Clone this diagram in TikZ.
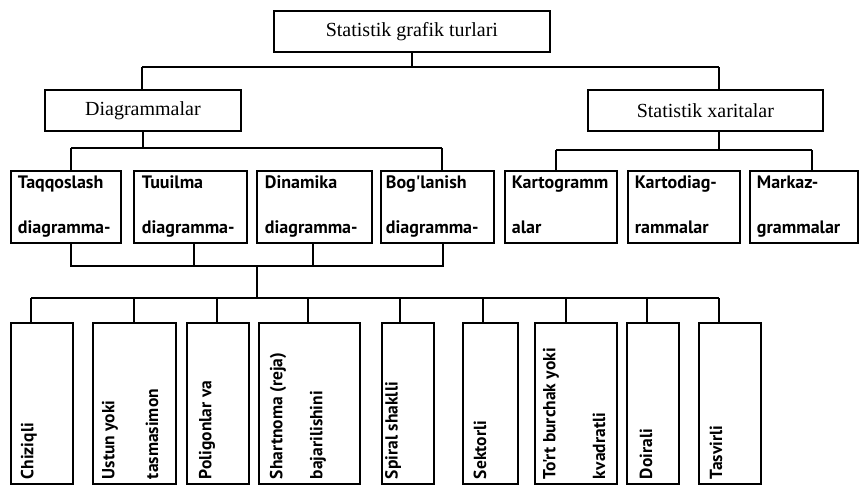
\documentclass[tikz,border=0pt]{standalone}
\usepackage{fontspec}
\setmainfont{Liberation Serif}
\newfontfamily\sansf{PT Sans}
\begin{document}
\begin{tikzpicture}[x=1pt,y=-1pt,line width=1.8pt,
  box/.style={draw,rectangle,inner sep=0pt,anchor=north west},
  head/.style={font=\fontsize{20}{24}\selectfont},
  lbl/.style={font=\sansf\bfseries\fontsize{18}{21}\selectfont,anchor=base west,inner sep=0pt},
  vlbl/.style={font=\sansf\bfseries\fontsize{17.5}{20}\selectfont,anchor=west,rotate=90,inner sep=0pt}]
\useasboundingbox (0,0) rectangle (860,485);
% level 0 and 1
\node[box,head,minimum width=276pt,minimum height=41pt] (top) at (273,10) {};
\node[head] at (top.center) {Statistik grafik turlari};
\node[box,minimum width=196pt,minimum height=41pt] (D) at (44,89) {};
\node[head] at (D.center) {Diagrammalar};
\node[box,minimum width=235pt,minimum height=41pt] (S) at (587,89) {};
\node[head] at (S.center) {Statistik xaritalar};
% level 2
\node[box,minimum width=110pt,minimum height=72pt] (A) at (10,170) {};
\node[box,minimum width=113pt,minimum height=72pt] (B) at (133,170) {};
\node[box,minimum width=115pt,minimum height=72pt] (C) at (256,170) {};
\node[box,minimum width=113pt,minimum height=72pt] (E) at (380,170) {};
\node[box,minimum width=112pt,minimum height=72pt] (K1) at (504,170) {};
\node[box,minimum width=112pt,minimum height=72pt] (K2) at (627,170) {};
\node[box,minimum width=108pt,minimum height=72pt] (K3) at (749,170) {};
\node[lbl] at (17,188) {Taqqoslash};
\node[lbl] at (17,233) {diagramma-};
\node[lbl] at (141,188) {Tuuilma};
\node[lbl] at (141,233) {diagramma-};
\node[lbl] at (264,188) {Dinamika};
\node[lbl] at (264,233) {diagramma-};
\node[lbl] at (385,188) {Bog'lanish};
\node[lbl] at (385,233) {diagramma-};
\node[lbl] at (511,188) {Kartogramm};
\node[lbl] at (511,233) {alar};
\node[lbl] at (634,188) {Kartodiag-};
\node[lbl] at (634,233) {rammalar};
\node[lbl] at (756,188) {Markaz-};
\node[lbl] at (756,233) {grammalar};
% level 3
\node[box,minimum width=62pt,minimum height=161pt] (n1) at (10,322) {};
\node[box,minimum width=83pt,minimum height=161pt] (n2) at (92,322) {};
\node[box,minimum width=62pt,minimum height=161pt] (n3) at (186,322) {};
\node[box,minimum width=101pt,minimum height=161pt] (n4) at (258,322) {};
\node[box,minimum width=52pt,minimum height=161pt] (n5) at (381,322) {};
\node[box,minimum width=55pt,minimum height=161pt] (n6) at (462,322) {};
\node[box,minimum width=82pt,minimum height=161pt] (n7) at (534,322) {};
\node[box,minimum width=52pt,minimum height=161pt] (n8) at (626,322) {};
\node[box,minimum width=62pt,minimum height=161pt] (n9) at (698,322) {};
\node[vlbl] at (29,480) {Chiziqli};
\node[vlbl] at (110,480) {Ustun yoki};
\node[vlbl] at (152,480) {tasmasimon};
\node[vlbl] at (207,480) {Poligonlar va};
\node[vlbl] at (278,480) {Shartnoma (reja)};
\node[vlbl] at (318,480) {bajarilishini};
\node[vlbl] at (393,480) {Spiral shaklli};
\node[vlbl] at (480,480) {Sektorli};
\node[vlbl] at (551,480) {To'rt burchak yoki};
\node[vlbl] at (599,480) {kvadratli};
\node[vlbl] at (646,480) {Doirali};
\node[vlbl] at (716,480) {Tasvirli};
% connectors level 0-1
\coordinate (h1L) at (142,67);
\coordinate (h1R) at (719,67);
\draw (top.south) -- (top.south |- h1L);
\draw (h1L) -- (h1R);
\draw (h1L) -- (h1L |- D.north);
\draw (h1R) -- (h1R |- S.north);
% connectors level 1-2
\coordinate (h2L) at (71,148);
\coordinate (h2R) at (442,148);
\draw (D.south) -- (D.south |- h2L);
\draw (h2L) -- (h2R);
\draw (h2L) -- (h2L |- A.north);
\draw (h2R) -- (h2R |- E.north);
\coordinate (h3L) at (556,150);
\coordinate (h3M) at (719,150);
\coordinate (h3R) at (812,150);
\draw (h3M |- S.south) -- (h3M);
\draw (h3L) -- (h3R);
\draw (h3L) -- (h3L |- K1.north);
\draw (h3R) -- (h3R |- K3.north);
% connectors level 2-3
\coordinate (h4L) at (71,266);
\coordinate (h4B) at (194,266);
\coordinate (h4M) at (257,266);
\coordinate (h4C) at (313,266);
\coordinate (h4R) at (443,266);
\draw (h4L |- A.south) -- (h4L) -- (h4R) -- (h4R |- E.south);
\draw (h4B |- B.south) -- (h4B);
\draw (h4C |- C.south) -- (h4C);
\coordinate (h5M) at (257,298);
\draw (h4M) -- (h5M);
\coordinate (c1) at (31,298);
\coordinate (c2) at (134,298);
\coordinate (c3) at (217,298);
\coordinate (c4) at (308,298);
\coordinate (c5) at (400,298);
\coordinate (c6) at (483,298);
\coordinate (c7) at (566,298);
\coordinate (c8) at (647,298);
\coordinate (c9) at (719,298);
\draw (c1) -- (c9);
\foreach \i in {1,...,9}{\draw (c\i) -- (c\i |- n\i.north);}
\end{tikzpicture}
\end{document}
